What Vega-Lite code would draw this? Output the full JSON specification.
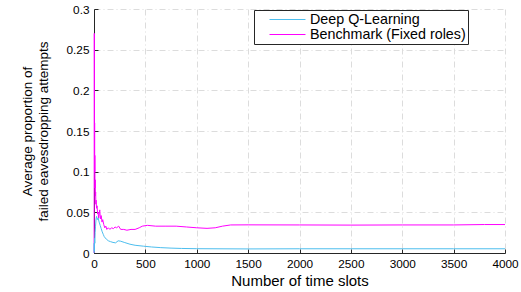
{
  "$schema": "https://vega.github.io/schema/vega-lite/v6.json",
  "autosize": "none",
  "width": 411,
  "height": 244,
  "padding": {"left": 94, "top": 9, "right": 16, "bottom": 39},
  "background": "white",
  "config": {
    "view": {"stroke": null},
    "font": "Liberation Sans",
    "axis": {
      "labelFont": "Liberation Sans",
      "titleFont": "Liberation Sans",
      "labelColor": "#000000",
      "titleColor": "#000000",
      "titleFontWeight": "normal",
      "domainColor": "#262626",
      "tickColor": "#262626",
      "gridColor": "#dcdcdc",
      "gridDash": [6, 3, 1, 3],
      "gridWidth": 1,
      "labelFlush": false,
      "labelOverlap": false
    }
  },
  "data": {
    "values": [
      {"t": 1, "v": 0, "s": "Benchmark (Fixed roles)"},
      {"t": 2, "v": 0.15, "s": "Benchmark (Fixed roles)"},
      {"t": 3, "v": 0.27, "s": "Benchmark (Fixed roles)"},
      {"t": 4, "v": 0.2, "s": "Benchmark (Fixed roles)"},
      {"t": 5, "v": 0.12, "s": "Benchmark (Fixed roles)"},
      {"t": 6, "v": 0.16, "s": "Benchmark (Fixed roles)"},
      {"t": 7, "v": 0.1, "s": "Benchmark (Fixed roles)"},
      {"t": 8, "v": 0.12, "s": "Benchmark (Fixed roles)"},
      {"t": 10, "v": 0.08, "s": "Benchmark (Fixed roles)"},
      {"t": 12, "v": 0.09, "s": "Benchmark (Fixed roles)"},
      {"t": 14, "v": 0.07, "s": "Benchmark (Fixed roles)"},
      {"t": 16, "v": 0.075, "s": "Benchmark (Fixed roles)"},
      {"t": 18, "v": 0.06, "s": "Benchmark (Fixed roles)"},
      {"t": 20, "v": 0.065, "s": "Benchmark (Fixed roles)"},
      {"t": 25, "v": 0.055, "s": "Benchmark (Fixed roles)"},
      {"t": 30, "v": 0.058, "s": "Benchmark (Fixed roles)"},
      {"t": 35, "v": 0.048, "s": "Benchmark (Fixed roles)"},
      {"t": 40, "v": 0.05, "s": "Benchmark (Fixed roles)"},
      {"t": 45, "v": 0.043, "s": "Benchmark (Fixed roles)"},
      {"t": 50, "v": 0.048, "s": "Benchmark (Fixed roles)"},
      {"t": 56, "v": 0.053, "s": "Benchmark (Fixed roles)"},
      {"t": 62, "v": 0.042, "s": "Benchmark (Fixed roles)"},
      {"t": 70, "v": 0.046, "s": "Benchmark (Fixed roles)"},
      {"t": 78, "v": 0.038, "s": "Benchmark (Fixed roles)"},
      {"t": 85, "v": 0.041, "s": "Benchmark (Fixed roles)"},
      {"t": 95, "v": 0.035, "s": "Benchmark (Fixed roles)"},
      {"t": 105, "v": 0.031, "s": "Benchmark (Fixed roles)"},
      {"t": 115, "v": 0.033, "s": "Benchmark (Fixed roles)"},
      {"t": 125, "v": 0.029, "s": "Benchmark (Fixed roles)"},
      {"t": 140, "v": 0.031, "s": "Benchmark (Fixed roles)"},
      {"t": 155, "v": 0.029, "s": "Benchmark (Fixed roles)"},
      {"t": 170, "v": 0.031, "s": "Benchmark (Fixed roles)"},
      {"t": 190, "v": 0.03, "s": "Benchmark (Fixed roles)"},
      {"t": 205, "v": 0.032, "s": "Benchmark (Fixed roles)"},
      {"t": 220, "v": 0.031, "s": "Benchmark (Fixed roles)"},
      {"t": 240, "v": 0.033, "s": "Benchmark (Fixed roles)"},
      {"t": 260, "v": 0.029, "s": "Benchmark (Fixed roles)"},
      {"t": 290, "v": 0.029, "s": "Benchmark (Fixed roles)"},
      {"t": 320, "v": 0.028, "s": "Benchmark (Fixed roles)"},
      {"t": 360, "v": 0.029, "s": "Benchmark (Fixed roles)"},
      {"t": 400, "v": 0.029, "s": "Benchmark (Fixed roles)"},
      {"t": 440, "v": 0.031, "s": "Benchmark (Fixed roles)"},
      {"t": 470, "v": 0.033, "s": "Benchmark (Fixed roles)"},
      {"t": 520, "v": 0.034, "s": "Benchmark (Fixed roles)"},
      {"t": 600, "v": 0.033, "s": "Benchmark (Fixed roles)"},
      {"t": 700, "v": 0.033, "s": "Benchmark (Fixed roles)"},
      {"t": 800, "v": 0.033, "s": "Benchmark (Fixed roles)"},
      {"t": 900, "v": 0.032, "s": "Benchmark (Fixed roles)"},
      {"t": 1000, "v": 0.031, "s": "Benchmark (Fixed roles)"},
      {"t": 1100, "v": 0.0303, "s": "Benchmark (Fixed roles)"},
      {"t": 1180, "v": 0.031, "s": "Benchmark (Fixed roles)"},
      {"t": 1250, "v": 0.033, "s": "Benchmark (Fixed roles)"},
      {"t": 1330, "v": 0.0345, "s": "Benchmark (Fixed roles)"},
      {"t": 1500, "v": 0.0346, "s": "Benchmark (Fixed roles)"},
      {"t": 2000, "v": 0.0345, "s": "Benchmark (Fixed roles)"},
      {"t": 2500, "v": 0.0343, "s": "Benchmark (Fixed roles)"},
      {"t": 3000, "v": 0.0345, "s": "Benchmark (Fixed roles)"},
      {"t": 3500, "v": 0.0345, "s": "Benchmark (Fixed roles)"},
      {"t": 3800, "v": 0.035, "s": "Benchmark (Fixed roles)"},
      {"t": 4000, "v": 0.035, "s": "Benchmark (Fixed roles)"},
      {"t": 1, "v": 0, "s": "Deep Q-Learning"},
      {"t": 2, "v": 0.012, "s": "Deep Q-Learning"},
      {"t": 3, "v": 0.002, "s": "Deep Q-Learning"},
      {"t": 5, "v": 0.018, "s": "Deep Q-Learning"},
      {"t": 8, "v": 0.012, "s": "Deep Q-Learning"},
      {"t": 11, "v": 0.025, "s": "Deep Q-Learning"},
      {"t": 15, "v": 0.033, "s": "Deep Q-Learning"},
      {"t": 20, "v": 0.042, "s": "Deep Q-Learning"},
      {"t": 25, "v": 0.045, "s": "Deep Q-Learning"},
      {"t": 32, "v": 0.041, "s": "Deep Q-Learning"},
      {"t": 40, "v": 0.043, "s": "Deep Q-Learning"},
      {"t": 50, "v": 0.038, "s": "Deep Q-Learning"},
      {"t": 60, "v": 0.034, "s": "Deep Q-Learning"},
      {"t": 70, "v": 0.03, "s": "Deep Q-Learning"},
      {"t": 80, "v": 0.026, "s": "Deep Q-Learning"},
      {"t": 90, "v": 0.023, "s": "Deep Q-Learning"},
      {"t": 100, "v": 0.02, "s": "Deep Q-Learning"},
      {"t": 120, "v": 0.017, "s": "Deep Q-Learning"},
      {"t": 140, "v": 0.015, "s": "Deep Q-Learning"},
      {"t": 160, "v": 0.014, "s": "Deep Q-Learning"},
      {"t": 185, "v": 0.013, "s": "Deep Q-Learning"},
      {"t": 210, "v": 0.0125, "s": "Deep Q-Learning"},
      {"t": 235, "v": 0.015, "s": "Deep Q-Learning"},
      {"t": 260, "v": 0.0145, "s": "Deep Q-Learning"},
      {"t": 300, "v": 0.0128, "s": "Deep Q-Learning"},
      {"t": 350, "v": 0.0108, "s": "Deep Q-Learning"},
      {"t": 400, "v": 0.0095, "s": "Deep Q-Learning"},
      {"t": 480, "v": 0.0084, "s": "Deep Q-Learning"},
      {"t": 560, "v": 0.0074, "s": "Deep Q-Learning"},
      {"t": 650, "v": 0.0066, "s": "Deep Q-Learning"},
      {"t": 750, "v": 0.006, "s": "Deep Q-Learning"},
      {"t": 850, "v": 0.0056, "s": "Deep Q-Learning"},
      {"t": 1000, "v": 0.0053, "s": "Deep Q-Learning"},
      {"t": 1500, "v": 0.005, "s": "Deep Q-Learning"},
      {"t": 2000, "v": 0.0052, "s": "Deep Q-Learning"},
      {"t": 2500, "v": 0.0052, "s": "Deep Q-Learning"},
      {"t": 3000, "v": 0.0052, "s": "Deep Q-Learning"},
      {"t": 3500, "v": 0.0052, "s": "Deep Q-Learning"},
      {"t": 4000, "v": 0.0052, "s": "Deep Q-Learning"}
    ]
  },
  "mark": {"type": "line", "strokeWidth": 1, "interpolate": "linear"},
  "encoding": {
    "x": {
      "field": "t",
      "type": "quantitative",
      "scale": {"domain": [0, 4000], "nice": false},
      "axis": {
        "values": [0, 500, 1000, 1500, 2000, 2500, 3000, 3500, 4000],
        "format": "d",
        "title": "Number of time slots",
        "titleFontSize": 15,
        "labelFontSize": 11.8,
        "tickSize": -4,
        "labelPadding": 9,
        "titlePadding": 4,
        "grid": true
      }
    },
    "y": {
      "field": "v",
      "type": "quantitative",
      "scale": {"domain": [0, 0.3], "nice": false},
      "axis": {
        "values": [0, 0.05, 0.1, 0.15, 0.2, 0.25, 0.3],
        "format": ".2~f",
        "title": ["Average proportion of", "failed eavesdropping attempts"],
        "titleFontSize": 13.5,
        "titleLineHeight": 16,
        "labelFontSize": 11.8,
        "tickSize": -4,
        "labelPadding": 9,
        "titlePadding": 16,
        "grid": true
      }
    },
    "color": {
      "field": "s",
      "type": "nominal",
      "scale": {
        "domain": ["Deep Q-Learning", "Benchmark (Fixed roles)"],
        "range": ["#4DBEEE", "#FF00FF"]
      },
      "legend": {
        "title": null,
        "orient": "none",
        "legendX": 160,
        "legendY": 1,
        "symbolType": "M-2.57,0H2.57",
        "symbolSize": 196,
        "symbolStrokeWidth": 1,
        "symbolOffset": 24,
        "labelFontSize": 14.3,
        "labelFont": "Liberation Sans",
        "labelColor": "#000000",
        "labelOffset": 15,
        "labelExpr": "datum.label + '\u00a0\u00a0\u00a0\u00a0'",
        "rowPadding": 0,
        "padding": 2,
        "strokeColor": "#262626",
        "fillColor": "white"
      }
    },
    "order": {"field": "t", "type": "quantitative"}
  }
}
